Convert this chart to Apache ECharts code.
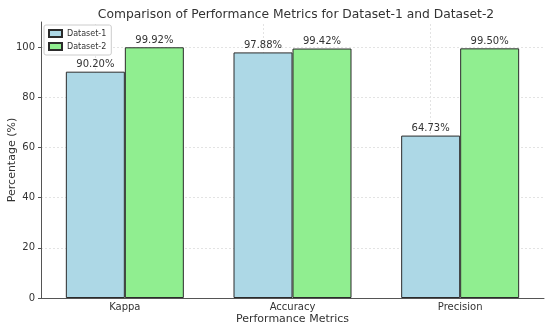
<!DOCTYPE html>
<html><head><meta charset="utf-8">
<script src="https://cdn.jsdelivr.net/npm/echarts@6/dist/echarts.min.js"></script>
<style>html,body{margin:0;padding:0;background:#fff}#c{width:550px;height:327px}</style>
</head><body><div id="c"></div>
<script>
const categories = ['Kappa', 'Accuracy', 'Precision'];
const dataset1 = [90.20, 97.88, 64.73];
const dataset2 = [99.92, 99.42, 99.50];
const seriesNames = ['Dataset-1', 'Dataset-2'];
const yTicks = [0, 20, 40, 60, 80, 100];

const font = 'DejaVu Sans';
const chart = echarts.init(document.getElementById('c'));
const gridColor = '#e3e3e3';
function barSeries(name, data, color, withGrid) {
  const s = {
    name: name, type: 'bar', data: data, barGap: '0%', barWidth: 59,
    itemStyle: { color: color, borderColor: '#2b2b2b', borderWidth: 1 },
    label: { show: true, position: 'top', distance: 2, fontFamily: font, fontSize: 10, color: '#333',
      formatter: p => p.value.toFixed(2) + '%' },
    z: 3
  };
  if (withGrid) {
    s.markLine = { silent: true, symbol: 'none', z: 1, label: { show: false },
      lineStyle: { color: gridColor, type: [2, 2], width: 1 },
      data: categories.map(c => ({ xAxis: c })) };
  }
  return s;
}
chart.setOption({
  animation: false,
  title: { text: 'Comparison of Performance Metrics for Dataset-1 and Dataset-2', left: 291, top: 4, textAlign: 'center',
    textStyle: { fontFamily: font, fontSize: 12.3, fontWeight: 'normal', color: '#333' } },
  grid: { left: 41, right: 6, top: 22, bottom: 29, containLabel: false, outerBoundsMode: 'none' },
  legend: { left: 44, top: 25, orient: 'vertical', itemWidth: 13, itemHeight: 7, itemGap: 4, icon: 'rect',
    padding: [4, 5, 4, 4], borderColor: '#ccc', borderWidth: 1, borderRadius: 2, backgroundColor: '#fff',
    textStyle: { fontFamily: font, fontSize: 8, color: '#333' }, data: seriesNames },
  xAxis: { type: 'category', data: categories, name: 'Performance Metrics', nameLocation: 'middle', nameGap: 16,
    nameMoveOverlap: false,
    nameTextStyle: { fontFamily: font, fontSize: 11, color: '#333' },
    axisLine: { lineStyle: { color: '#555' } }, axisTick: { show: false },
    axisLabel: { fontFamily: font, fontSize: 10, color: '#333', margin: 4 } },
  yAxis: { type: 'value', min: 0, max: 110, interval: 20, name: 'Percentage (%)', nameLocation: 'middle', nameGap: 23,
    nameMoveOverlap: false,
    nameTextStyle: { fontFamily: font, fontSize: 11, color: '#333' },
    axisLine: { show: true, lineStyle: { color: '#555' } }, axisTick: { show: true, length: 3, lineStyle: { color: '#555' } },
    axisLabel: { fontFamily: font, fontSize: 10, color: '#333', margin: 6, showMaxLabel: false,
      formatter: v => yTicks.includes(v) ? String(v) : '' },
    splitLine: { show: true, lineStyle: { color: [gridColor, gridColor, gridColor, gridColor, gridColor, gridColor, 'transparent'], type: [2, 2] } } },
  series: [barSeries(seriesNames[0], dataset1, '#add8e6', true), barSeries(seriesNames[1], dataset2, '#90ee90', false)]
});
</script></body></html>
